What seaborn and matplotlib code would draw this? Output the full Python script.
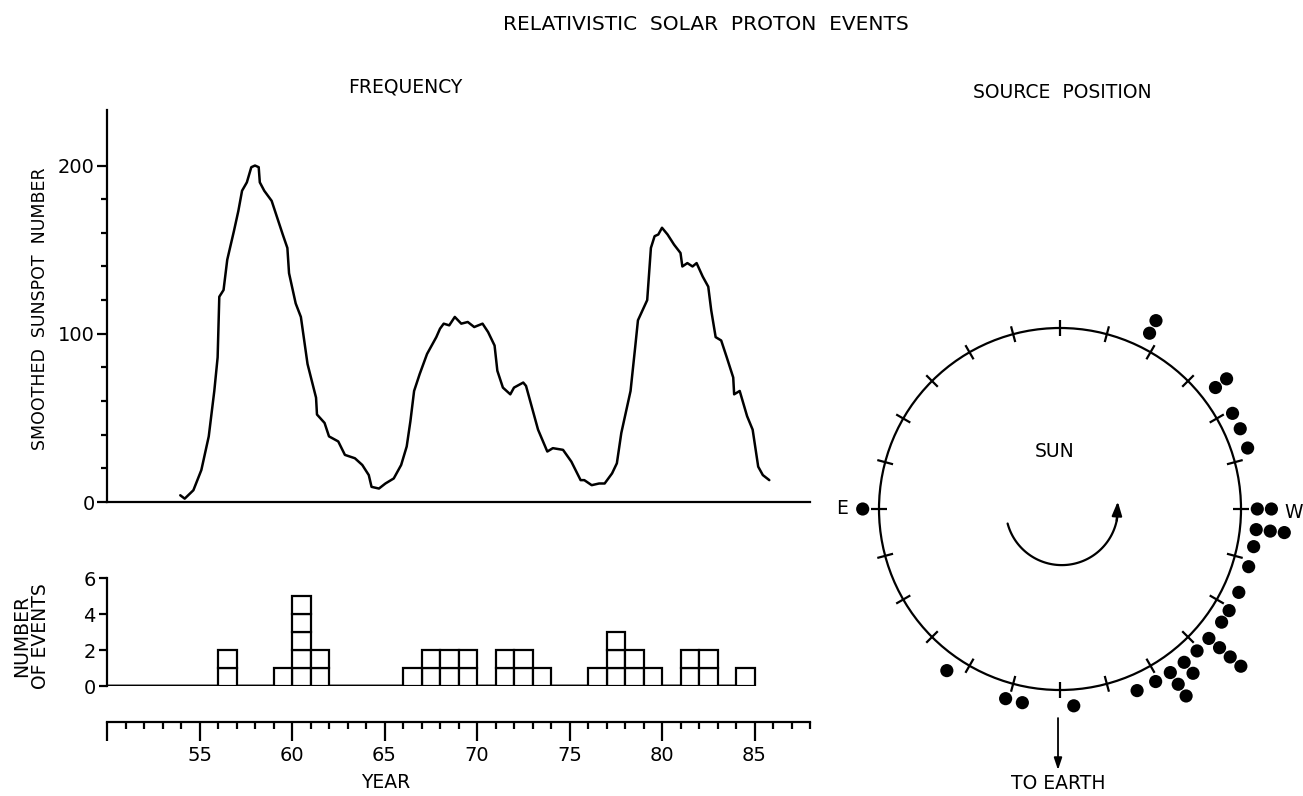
import numpy as np
import pandas as pd
import matplotlib
matplotlib.use("Agg")
import matplotlib.pyplot as plt
from matplotlib.patches import Circle
from matplotlib.ticker import FixedLocator
import seaborn as sns

# ---------------- data ----------------
sun_year = [53.96, 54.2, 54.67, 55.1, 55.5, 55.8, 55.98, 56.07, 56.3, 56.5, 56.86, 57.1,
            57.3, 57.56, 57.8, 58.0, 58.2, 58.26, 58.5, 58.9, 59.2, 59.5, 59.75, 59.84,
            60.2, 60.48, 60.84, 61.3, 61.35, 61.76, 62.0, 62.5, 62.86, 63.4, 63.8, 64.15,
            64.3, 64.7, 65.05, 65.5, 65.9, 66.2, 66.4, 66.6, 66.9, 67.3, 67.8, 68.0,
            68.2, 68.5, 68.8, 69.15, 69.5, 69.85, 70.3, 70.6, 70.95, 71.1, 71.4, 71.8,
            72.0, 72.5, 72.65, 72.9, 73.3, 73.8, 74.1, 74.65, 75.1, 75.6, 75.8, 76.2,
            76.6, 76.9, 77.3, 77.56, 77.8, 78.3, 78.55, 78.7, 79.2, 79.4, 79.6, 79.8,
            80.0, 80.3, 80.65, 81.0, 81.1, 81.37, 81.65, 81.87, 82.2, 82.5, 82.66, 82.9,
            83.2, 83.5, 83.85, 83.9, 84.2, 84.6, 84.9, 85.2, 85.45, 85.8]
sun_value = [4, 2, 7, 19, 39, 66, 86, 122, 126, 144, 161, 173,
             185, 190, 199, 200, 199, 190, 185, 179, 169, 159, 151, 136,
             118, 110, 82, 62, 52, 47, 39, 36, 28, 26, 22, 16,
             9, 8, 11, 14, 22, 33, 48, 66, 76, 88, 98, 103,
             106, 105, 110, 106, 107, 104, 106, 101, 93, 78, 68, 64,
             68, 71, 69, 59, 43, 30, 32, 31, 24, 13, 13, 10,
             11, 11, 17, 23, 41, 66, 92, 108, 120, 151, 158, 159,
             163, 159, 153, 148, 140, 142, 140, 142, 134, 128, 114, 98,
             96, 86, 74, 64, 66, 51, 43, 21, 16, 13]

hist_year = [56, 59, 60, 61, 66, 67, 68, 69, 71, 72, 73, 76, 77, 78, 79, 81, 82, 84]
hist_count = [2, 1, 5, 2, 1, 2, 2, 2, 2, 2, 1, 1, 3, 2, 1, 2, 2, 1]

# source heliolongitudes (degrees, west positive)
src_lon = [153, 153, 128, 128, 119, 114, 108, 90, 90, 84, 84, 84, 79, 73, 65, 59, 55,
           49, 49, 49, 49, 44, 39, 39, 34, 34, 34, 29, 23, -35, -16, -11, 4, -90]

year_ticks = [50, 55, 60, 65, 70, 75, 80, 85]
year_labels = ["", "55", "60", "65", "70", "75", "80", "85"]
sun_ticks = [0, 100, 200]
sun_minor = [20, 40, 60, 80, 120, 140, 160, 180]
hist_ticks = [0, 2, 4, 6]

# ---------------- style ----------------
sns.set_theme(style="white")
plt.rcParams["font.family"] = ["DejaVu Sans"]
plt.rcParams["axes.edgecolor"] = "black"
plt.rcParams["axes.linewidth"] = 1.6
plt.rcParams["text.color"] = "black"
plt.rcParams["axes.labelcolor"] = "black"
plt.rcParams["xtick.color"] = "black"
plt.rcParams["ytick.color"] = "black"

W, H = 1303, 796
fig = plt.figure(figsize=(W / 100, H / 100), dpi=100)
fig.patch.set_facecolor("white")


def box(l, t, r, b):
    return [l / W, 1 - b / H, (r - l) / W, (b - t) / H]


def ftext(x, y, s, **kw):
    fig.text(x / W, 1 - y / H, s, ha="center", va="center", color="black", **kw)


LW = 1.6
FS = 13.5

# ---------------- sunspot panel ----------------
ax_s = fig.add_axes(box(107, 110, 810, 502))
sns.lineplot(x=sun_year, y=sun_value, sort=False, color="black", linewidth=1.8, ax=ax_s)
ax_s.set_xlim(50, 88)
ax_s.set_ylim(0, 233)
for sp in ("top", "right"):
    ax_s.spines[sp].set_visible(False)
ax_s.set_xticks([])
ax_s.yaxis.set_major_locator(FixedLocator(sun_ticks))
ax_s.yaxis.set_minor_locator(FixedLocator(sun_minor))
ax_s.set_yticklabels([str(v) for v in sun_ticks])
ax_s.tick_params(axis="y", which="major", direction="out", length=7, width=LW,
                 labelsize=14, pad=2, left=True)
ax_s.tick_params(axis="y", which="minor", direction="out", length=4, width=LW, left=True)
ax_s.set_xlabel("")
ax_s.set_ylabel("")
ax_s.patch.set_alpha(0)
ftext(40, 309, "SMOOTHED  SUNSPOT  NUMBER", rotation=90, fontsize=12.5)

# ---------------- histogram panel ----------------
ax_h = fig.add_axes(box(107, 578, 810, 686))
rows = [(y + 0.5, f"L{k}") for y, c in zip(hist_year, hist_count) for k in range(c)]
df = pd.DataFrame(rows, columns=["year", "level"])
levels = sorted(df["level"].unique())
sns.histplot(data=df, x="year", hue="level", hue_order=levels, multiple="stack",
             bins=np.arange(50, 86), palette={lv: "white" for lv in levels},
             edgecolor="black", linewidth=LW, alpha=1, legend=False, ax=ax_h)
ax_h.set_xlim(50, 88)
ax_h.set_ylim(0, 6)
for sp in ("top", "right"):
    ax_h.spines[sp].set_visible(False)
ax_h.spines["bottom"].set_position(("outward", 36 * 0.72))
ax_h.xaxis.set_major_locator(FixedLocator(year_ticks))
ax_h.set_xticklabels(year_labels)
ax_h.xaxis.set_minor_locator(FixedLocator(list(range(50, 89))))
ax_h.tick_params(axis="x", which="major", direction="out", length=14, width=LW,
                 labelsize=14, pad=3, bottom=True)
ax_h.tick_params(axis="x", which="minor", direction="out", length=5, width=LW, bottom=True)
ax_h.yaxis.set_major_locator(FixedLocator(hist_ticks))
ax_h.set_yticklabels([str(v) for v in hist_ticks])
ax_h.tick_params(axis="y", which="major", direction="out", length=6, width=LW,
                 labelsize=14, pad=2, left=True)
ax_h.set_xlabel("")
ax_h.set_ylabel("")
ax_h.patch.set_alpha(0)
ftext(386, 783, "YEAR", fontsize=FS)
ftext(31, 636, "NUMBER\nOF EVENTS", rotation=90, fontsize=FS, linespacing=1.0)

# ---------------- source position panel ----------------
cx_px, cy_px, R = 1060, 509, 181
pl, pt, pr, pb = 830, 310, 1300, 796
ax_p = fig.add_axes(box(pl, pt, pr, pb))
ax_p.set_xlim((pl - cx_px) / R, (pr - cx_px) / R)
ax_p.set_ylim((cy_px - pb) / R, (cy_px - pt) / R)
ax_p.axis("off")

ax_p.add_patch(Circle((0, 0), 1.0, fill=False, lw=LW, color="black"))
for a in range(0, 360, 15):
    t = np.deg2rad(a)
    ax_p.plot([0.955 * np.cos(t), 1.045 * np.cos(t)], [0.955 * np.sin(t), 1.045 * np.sin(t)],
              color="black", lw=LW, solid_capstyle="butt")

seen = {}
px, py = [], []
for lon in src_lon:
    k = seen.get(lon, 0)
    seen[lon] = k + 1
    r = 1.09 + 0.078 * k
    th = np.deg2rad(lon - 90)
    px.append(r * np.cos(th))
    py.append(r * np.sin(th))
sns.scatterplot(x=px, y=py, color="black", s=90, edgecolor="none", ax=ax_p, legend=False)

# rotation arrow
ang = np.deg2rad(np.linspace(195, 352, 80))
ax_p.plot(0.01 + 0.31 * np.cos(ang), 0.31 * np.sin(ang), color="black", lw=LW)
a0, a1 = np.deg2rad(348), np.deg2rad(4)
ax_p.annotate("", xy=(0.01 + 0.31 * np.cos(a1), 0.31 * np.sin(a1) + 0.02),
              xytext=(0.01 + 0.31 * np.cos(a0), 0.31 * np.sin(a0)),
              arrowprops=dict(arrowstyle="-|>,head_length=0.7,head_width=0.25",
                              color="black", lw=LW, shrinkA=0, shrinkB=0))
# to earth arrow
ax_p.annotate("", xy=(-0.011, -1.442), xytext=(-0.011, -1.155),
              arrowprops=dict(arrowstyle="-|>,head_length=0.6,head_width=0.2",
                              color="black", lw=1.3, shrinkA=0, shrinkB=0))
ax_p.text(-0.028, 0.315, "SUN", ha="center", va="center", fontsize=FS, color="black")
ax_p.text(-1.204, 0.0, "E", ha="center", va="center", fontsize=FS, color="black")
ax_p.text(1.29, -0.017, "W", ha="center", va="center", fontsize=FS, color="black")
ax_p.text(-0.01, -1.514, "TO EARTH", ha="center", va="center", fontsize=FS, color="black")

# ---------------- titles ----------------
ftext(706, 25, "RELATIVISTIC  SOLAR  PROTON  EVENTS", fontsize=14.5)
ftext(405, 87, "FREQUENCY", fontsize=FS)
ftext(1062, 92, "SOURCE  POSITION", fontsize=FS)

fig.savefig("out.png", dpi=100, facecolor="white")
